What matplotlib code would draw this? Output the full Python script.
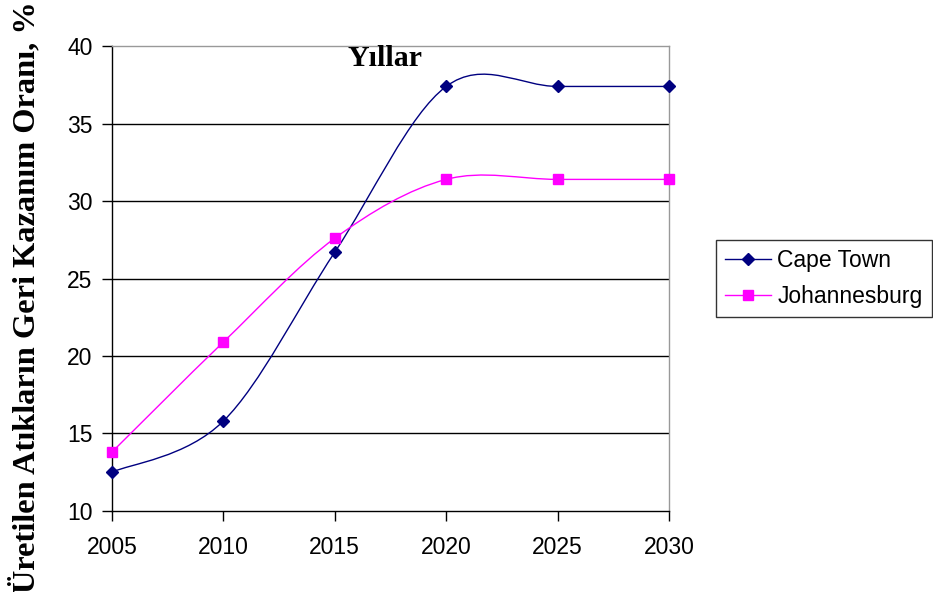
import numpy as np
import matplotlib
matplotlib.use("Agg")
import matplotlib.pyplot as plt
from matplotlib.path import Path
from matplotlib.patches import PathPatch
from matplotlib.lines import Line2D

years = [2005, 2010, 2015, 2020, 2025, 2030]
cape_town = [12.5, 15.8, 26.7, 37.4, 37.4, 37.4]
johannesburg = [13.8, 20.9, 27.6, 31.4, 31.4, 31.4]
y_ticks = [10, 15, 20, 25, 30, 35, 40]


def smooth_path(xs, ys):
    # excel-like smoothed line: cubic bezier segments through the points
    pts = np.column_stack([xs, ys]).astype(float)
    n = len(pts)
    verts = [pts[0]]
    codes = [Path.MOVETO]
    for i in range(n - 1):
        p0 = pts[max(i - 1, 0)]
        p1 = pts[i]
        p2 = pts[i + 1]
        p3 = pts[min(i + 2, n - 1)]
        c1 = p1 + (p2 - p0) / 6.0
        c2 = p2 - (p3 - p1) / 6.0
        verts += [c1, c2, p2]
        codes += [Path.CURVE4] * 3
    return Path(verts, codes)


fig = plt.figure(figsize=(9.33, 5.92), dpi=100)
ax = fig.add_axes([0.120, 0.137, 0.597, 0.785])

series = [
    (cape_town, "#000080", "D", 6, "Cape Town"),
    (johannesburg, "#FF00FF", "s", 6.5, "Johannesburg"),
]
handles = []
for vals, col, mk, ms, lab in series:
    ax.add_patch(PathPatch(smooth_path(years, vals), facecolor="none",
                           edgecolor=col, lw=1.0, zorder=3, clip_on=False))
    ax.plot(years, vals, linestyle="none", marker=mk, ms=ms, color=col,
            zorder=4, clip_on=False)
    handles.append(Line2D([], [], color=col, lw=1.0, marker=mk, ms=ms, label=lab))

ax.set_xlim(2005, 2030)
ax.set_ylim(10, 40)
ax.set_xticks(years)
ax.set_yticks(y_ticks)
for y in y_ticks[1:-1]:
    ax.axhline(y, color="black", lw=1.0, zorder=1)

ax.spines["top"].set_color("#999999")
ax.spines["right"].set_color("#999999")
ax.spines["left"].set_color("black")
ax.spines["bottom"].set_color("black")
for s in ax.spines.values():
    s.set_linewidth(1.0)

ax.tick_params(axis="x", direction="out", length=7, width=1, pad=11,
               labelsize=16.5)
ax.tick_params(axis="y", direction="out", length=7, width=1, pad=7,
               labelsize=16.5)
for lbl in ax.get_xticklabels() + ax.get_yticklabels():
    lbl.set_fontfamily("Liberation Sans")

fig.text(0.027, 0.498, "Üretilen Atıkların Geri Kazanım Oranı, %",
         rotation=90, ha="center", va="center", fontsize=23.3,
         fontweight="bold", fontfamily="Liberation Serif")
fig.text(0.413, 0.902, "Yıllar", ha="center", va="center", fontsize=21.5,
         fontweight="bold", fontfamily="Liberation Serif")

leg = fig.legend(handles=handles, loc="upper left",
                 bbox_to_anchor=(0.767, 0.595), frameon=True, fancybox=False,
                 prop={"family": "Liberation Sans", "size": 16.5},
                 handlelength=2.0, handletextpad=0.3, borderpad=0.4,
                 labelspacing=0.55, borderaxespad=0)
leg.get_frame().set_edgecolor("black")
leg.get_frame().set_linewidth(1.0)

plt.savefig("out.png", dpi=100)
